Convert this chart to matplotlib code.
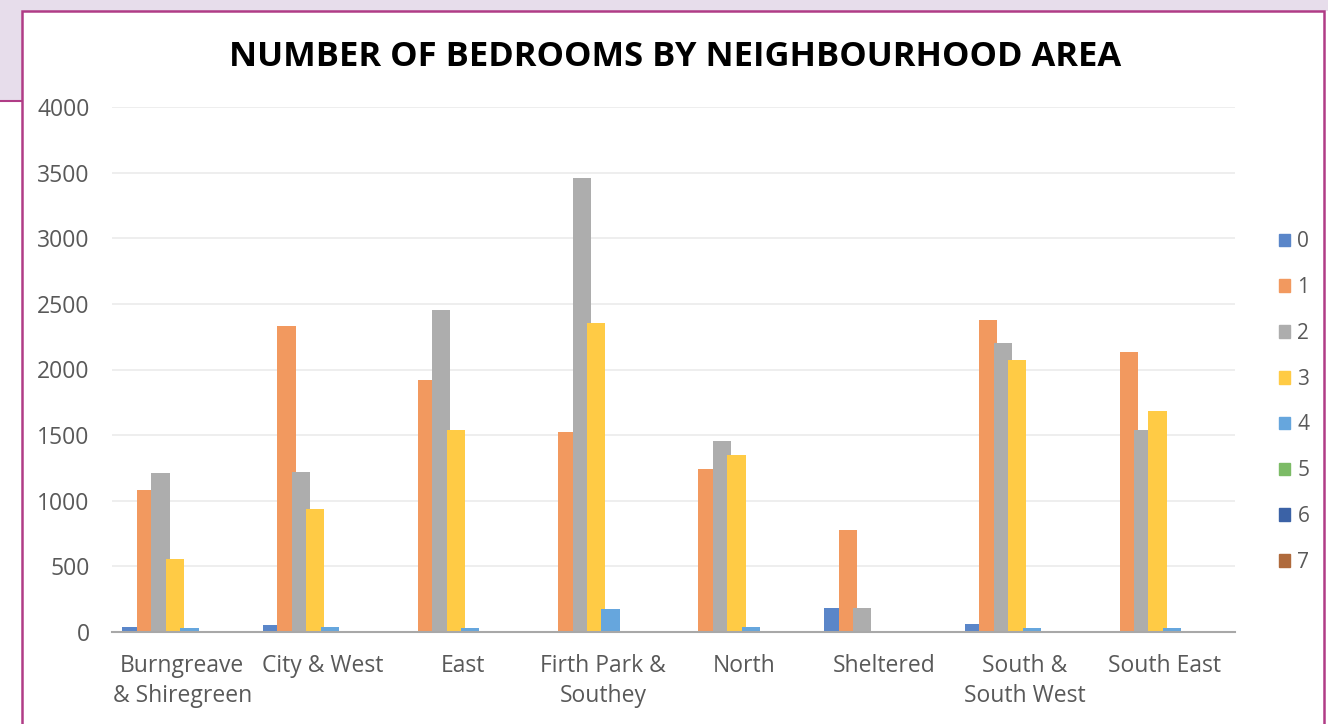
import matplotlib.pyplot as plt
import matplotlib.patches as mpatches
from matplotlib.lines import Line2D
import numpy as np

plt.rcParams['font.family'] = ['Open Sans', 'DejaVu Sans']

# data
areas = ["Burngreave\n& Shiregreen", "City & West", "East", "Firth Park &\nSouthey",
         "North", "Sheltered", "South &\nSouth West", "South East"]
bedrooms = ["0", "1", "2", "3", "4", "5", "6", "7"]
beds_0 = [40, 50, 0, 0, 0, 183, 58, 0]
beds_1 = [1082, 2331, 1920, 1524, 1242, 777, 2377, 2133]
beds_2 = [1211, 1219, 2453, 3459, 1455, 183, 2202, 1539]
beds_3 = [556, 937, 1539, 2354, 1349, 0, 2072, 1684]
beds_4 = [30, 38, 30, 175, 38, 0, 30, 30]
beds_5 = [0, 0, 0, 0, 0, 0, 0, 0]
beds_6 = [0, 0, 0, 0, 0, 0, 0, 0]
beds_7 = [0, 0, 0, 0, 0, 0, 0, 0]
series = [beds_0, beds_1, beds_2, beds_3, beds_4, beds_5, beds_6, beds_7]

colors = ["#5A86C9", "#F2995F", "#ADADAD", "#FFCB45",
          "#66A6DD", "#7CBB66", "#3B62A6", "#AF6A3C"]

W, H = 1328, 724
fig = plt.figure(figsize=(W / 100, H / 100), dpi=100, facecolor="white")

# page decoration around the chart
magenta = "#B03C86"
lav = "#E7DDEB"
fig.patches.append(mpatches.Rectangle((0, 1 - 11 / H), 1, 11 / H, transform=fig.transFigure,
                                      facecolor=lav, edgecolor="none", zorder=-3))
fig.patches.append(mpatches.Rectangle((0, 1 - 101 / H), 22 / W, 90 / H, transform=fig.transFigure,
                                      facecolor=lav, edgecolor="none", zorder=-3))
fig.lines.append(Line2D([0, 22 / W], [1 - 101 / H, 1 - 101 / H], transform=fig.transFigure,
                        color=magenta, lw=1.5, zorder=-2))
fig.patches.append(mpatches.Rectangle((22 / W, -0.05), 1302 / W, 1.05 - 11 / H,
                                      transform=fig.transFigure, facecolor="white",
                                      edgecolor=magenta, lw=1.8, zorder=-1))

ax = fig.add_axes([112 / W, (H - 632) / H, (1235 - 112) / W, 525 / H])
ax.set_facecolor("none")

x = np.arange(len(areas))
step = 0.103
width = 0.13
for k, vals in enumerate(series):
    ax.bar(x + (k - 3.5) * step, vals, width, color=colors[k], label=bedrooms[k], zorder=2 + k)

ax.set_xlim(-0.5, len(areas) - 0.5)
ax.set_ylim(0, 4000)
ax.set_yticks(range(0, 4001, 500))
ax.yaxis.grid(True, color="#EBEBEB", lw=1.2)
ax.set_axisbelow(True)
for s in ["top", "right", "left"]:
    ax.spines[s].set_visible(False)
ax.spines["bottom"].set_color("#A8A8A8")
ax.spines["bottom"].set_linewidth(1.5)
ax.spines["bottom"].set_zorder(20)
ax.tick_params(length=0, colors="#595959")
ax.tick_params(axis="y", pad=16, labelsize=16.5)
ax.tick_params(axis="x", pad=16, labelsize=16.5)
ax.set_xticks(x)
ax.set_xticklabels(areas, linespacing=1.3)

fig.text(675 / W, 1 - 57 / H, "NUMBER OF BEDROOMS BY NEIGHBOURHOOD AREA", ha="center",
         va="center", fontsize=24.8, fontweight="bold", color="black")

handles = [mpatches.Patch(color=c) for c in colors]
leg = fig.legend(handles, bedrooms, loc="center left", bbox_to_anchor=(1260 / W, 1 - 402 / H),
                 frameon=False, fontsize=15, handlelength=0.55, handleheight=0.55,
                 handletextpad=0.35, labelspacing=1.19, labelcolor="#595959")

fig.savefig("out.png", dpi=100, facecolor=fig.get_facecolor())
